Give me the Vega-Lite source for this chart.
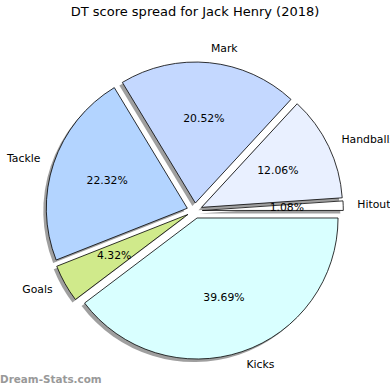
{
  "$schema": "https://vega.github.io/schema/vega-lite/v6.json",
  "width": 390,
  "height": 390,
  "autosize": "none",
  "padding": 0,
  "background": "white",
  "config": {"view": {"stroke": null}},
  "title": {
    "text": "DT score spread for Jack Henry (2018)",
    "font": "DejaVu Sans",
    "fontSize": 13,
    "fontWeight": "normal",
    "color": "#000000",
    "anchor": "middle",
    "baseline": "alphabetic",
    "offset": -29
  },
  "layer": [
    {
      "data": {
        "values": [
          {"label": "Kicks", "value": 39.69, "o": 1},
          {"label": "Goals", "value": 4.32, "o": 2},
          {"label": "Tackle", "value": 22.32, "o": 3},
          {"label": "Mark", "value": 20.52, "o": 4},
          {"label": "Handballs", "value": 12.06, "o": 5},
          {"label": "Hitouts", "value": 1.08, "o": 6}
        ]
      },
      "transform": [
        {"window": [{"op": "sum", "field": "value", "as": "cum"}], "sort": [{"field": "o"}], "frame": [null, 0]},
        {"joinaggregate": [{"op": "sum", "field": "value", "as": "total"}]},
        {"calculate": "(datum.cum - datum.value) / datum.total", "as": "f0"},
        {"calculate": "datum.cum / datum.total", "as": "f1"},
        {"calculate": "(datum.cum - datum.value / 2) / datum.total", "as": "fm"},
        {"calculate": "PI / 2 + 2 * PI * datum.fm", "as": "ang"},
        {"calculate": "sin(datum.ang)", "as": "ux"},
        {"calculate": "cos(datum.ang)", "as": "uy"},
        {"calculate": "format(datum.value, '.2f') + '%'", "as": "pct"}
      ],
      "encoding": {
        "x": {"field": "ux", "type": "quantitative", "scale": {"domain": [-1, 1], "range": [186.9, 202.3], "zero": false, "nice": false}, "axis": null},
        "y": {"field": "uy", "type": "quantitative", "scale": {"domain": [-1, 1], "range": [218.4, 203.0], "zero": false, "nice": false}, "axis": null}
      },
      "layer": [
        {
          "mark": {"type": "arc", "outerRadius": 141, "innerRadius": 0, "xOffset": -3, "yOffset": 3, "fill": "#404040", "fillOpacity": 0.5, "strokeWidth": 0},
          "encoding": {
            "theta": {"field": "f0", "type": "quantitative", "stack": null, "scale": {"domain": [0, 1], "range": [1.5707963, 7.8539816]}},
            "theta2": {"field": "f1"}
          }
        },
        {
          "mark": {"type": "arc", "outerRadius": 141, "innerRadius": 0, "stroke": "#000000", "strokeWidth": 0.8},
          "encoding": {
            "theta": {"field": "f0", "type": "quantitative", "stack": null},
            "theta2": {"field": "f1"},
            "color": {
              "field": "label",
              "type": "nominal",
              "scale": {
                "domain": ["Kicks", "Goals", "Tackle", "Mark", "Handballs", "Hitouts"],
                "range": ["#d9ffff", "#d0ea8b", "#b3d4ff", "#c4d8ff", "#e9f0ff", "#ffffff"]
              },
              "legend": null
            }
          }
        },
        {
          "mark": {"type": "text", "radius": 155.1, "font": "DejaVu Sans", "fontSize": 10.83, "color": "#000000", "baseline": "middle", "align": {"expr": "datum.ux > 0 ? 'left' : 'right'"}},
          "encoding": {
            "theta": {"field": "fm", "type": "quantitative", "stack": null},
            "text": {"field": "label"}
          }
        },
        {
          "mark": {"type": "text", "radius": 84.6, "font": "DejaVu Sans", "fontSize": 10.83, "color": "#000000", "baseline": "middle", "align": "center"},
          "encoding": {
            "theta": {"field": "fm", "type": "quantitative", "stack": null},
            "text": {"field": "pct"}
          }
        }
      ]
    },
    {
      "data": {"values": [{"t": "Dream-Stats.com"}]},
      "mark": {"type": "text", "font": "DejaVu Sans", "fontWeight": "bold", "fontSize": 10.4, "color": "#999999", "align": "left", "baseline": "alphabetic"},
      "encoding": {
        "x": {"value": 0},
        "y": {"value": 383},
        "text": {"field": "t"}
      }
    }
  ]
}
